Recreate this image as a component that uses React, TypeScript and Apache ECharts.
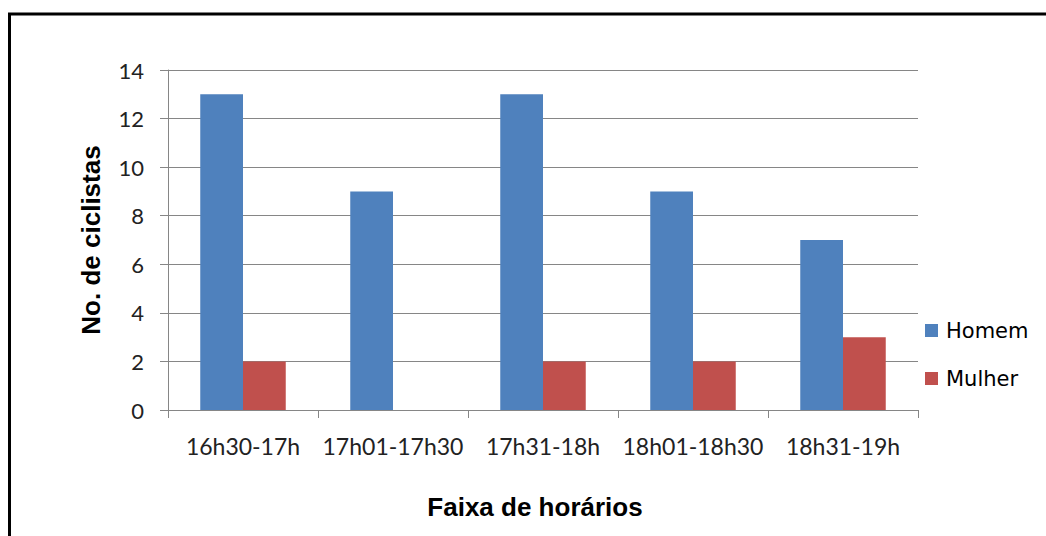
import React, { useEffect, useRef } from "react";
import * as echarts from "echarts";

const categories = ["16h30-17h", "17h01-17h30", "17h31-18h", "18h01-18h30", "18h31-19h"];
const homem = [13, 9, 13, 9, 7];
const mulher = [2, 0, 2, 2, 3];
const yTicks = { min: 0, max: 14, interval: 2 };

export default function App() {
  const ref = useRef<HTMLDivElement>(null);
  useEffect(() => {
    if (!ref.current) return;
    const chart = echarts.init(ref.current, null, { renderer: "svg" });
    const gray = "#868686";
    chart.setOption({
      animation: false,
      backgroundColor: "#ffffff",
      graphic: [
        {
          type: "rect",
          shape: { x: 9.5, y: 14, width: 1200, height: 700 },
          style: { fill: "none", stroke: "#000000", lineWidth: 3 },
          silent: true,
        },
      ],
      grid: { left: 168, right: 128, top: 70, bottom: 126, containLabel: false },
      legend: {
        orient: "vertical",
        left: 925,
        top: 320,
        padding: 0,
        itemWidth: 13,
        itemHeight: 13,
        itemGap: 27,
        icon: "rect",
        textStyle: {
          fontFamily: "DejaVu Sans",
          fontSize: 21,
          color: "#000",
          lineHeight: 20,
          padding: [0, 0, 0, 3],
        },
        data: ["Homem", "Mulher"],
      },
      xAxis: {
        type: "category",
        data: categories,
        name: "Faixa de horários",
        nameLocation: "middle",
        nameGap: 84,
        nameTextStyle: {
          fontFamily: "Liberation Sans",
          fontWeight: "bold",
          fontSize: 26,
          color: "#000",
          padding: [0, 16, 0, 0],
        },
        axisLine: { lineStyle: { color: gray, width: 1 } },
        axisTick: { show: true, length: 8, lineStyle: { color: gray } },
        axisLabel: {
          margin: 24,
          fontFamily: "Lato",
          fontSize: 23,
          color: "#222",
          interval: 0,
        },
      },
      yAxis: {
        type: "value",
        min: yTicks.min,
        max: yTicks.max,
        interval: yTicks.interval,
        name: "No. de ciclistas",
        nameLocation: "middle",
        nameGap: 64,
        nameTextStyle: {
          fontFamily: "Liberation Sans",
          fontWeight: "bold",
          fontSize: 26,
          color: "#000",
        },
        axisLine: { show: true, lineStyle: { color: gray, width: 1 } },
        axisTick: { show: true, length: 8, lineStyle: { color: gray } },
        splitLine: { show: true, lineStyle: { color: gray, width: 1 } },
        axisLabel: {
          margin: 24,
          fontFamily: "Lato",
          fontSize: 22,
          color: "#222",
        },
      },
      series: [
        {
          name: "Homem",
          type: "bar",
          data: homem,
          barGap: "0%",
          barCategoryGap: "43%",
          itemStyle: { color: "#4F81BD" },
        },
        {
          name: "Mulher",
          type: "bar",
          data: mulher,
          itemStyle: { color: "#C0504D" },
        },
      ],
    });
    return () => chart.dispose();
  }, []);
  return (
    <div
      ref={ref}
      style={{ position: "fixed", left: 0, top: 0, width: 1046, height: 536 }}
    />
  );
}
